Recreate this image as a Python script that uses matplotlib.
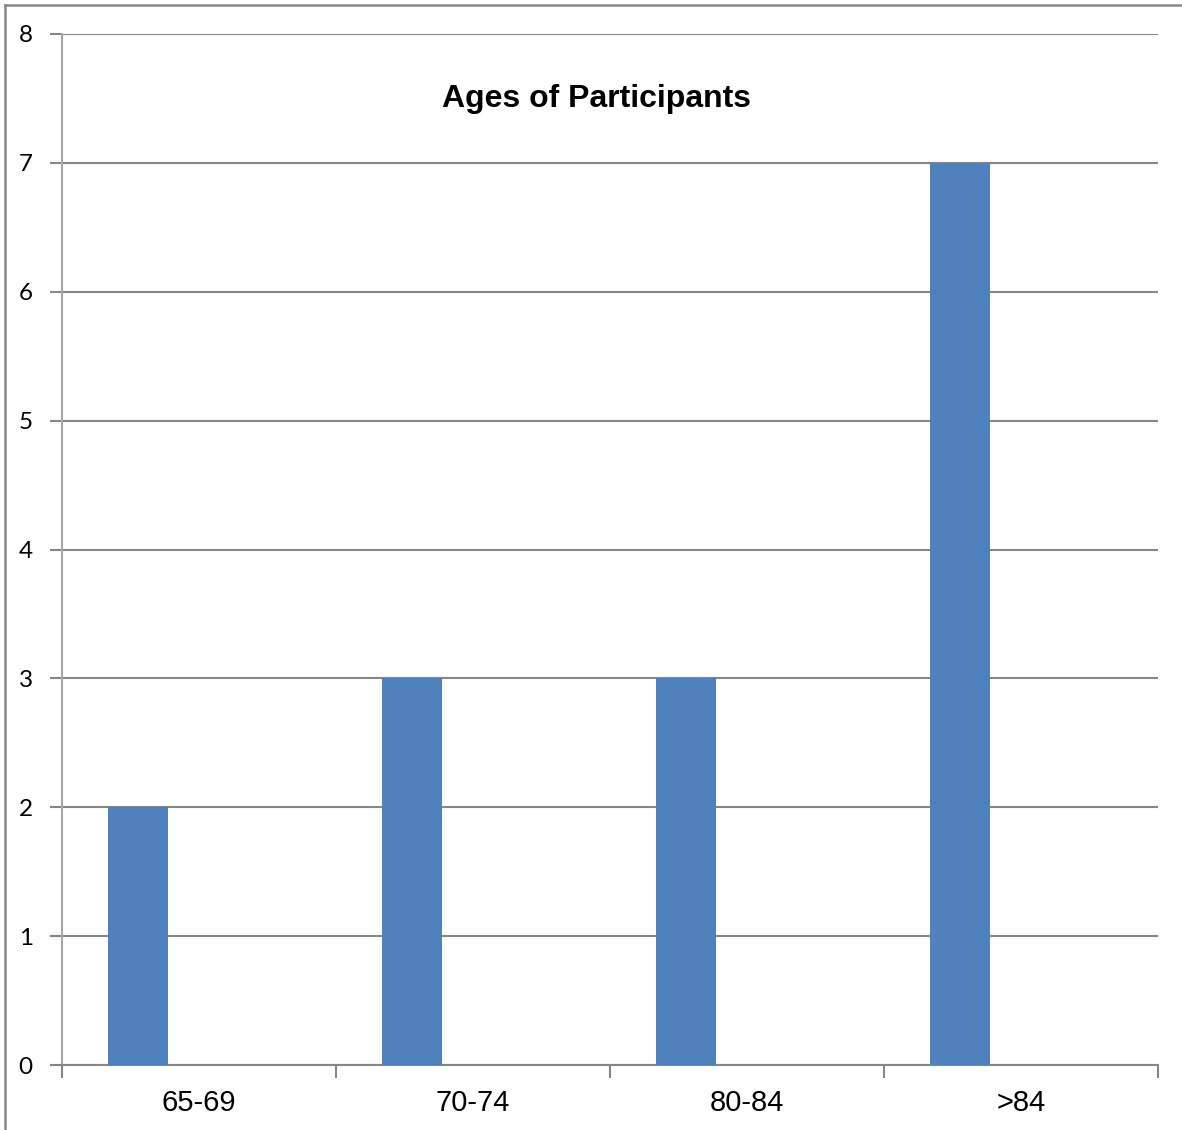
import numpy as np
import matplotlib.pyplot as plt
from matplotlib.lines import Line2D

categories = ["65-69", "70-74", "80-84", ">84"]
counts = [2, 3, 3, 7]
yticks = [0, 1, 2, 3, 4, 5, 6, 7, 8]

fig = plt.figure(figsize=(11.82, 11.3), dpi=100)
ax = fig.add_axes([62 / 1182, 1 - 1065 / 1130, 1096 / 1182, 1031 / 1130])

x = np.arange(len(categories))
# excel style: bar sits in the left slot of each category
ax.bar(x - 0.2226, counts, width=0.219, color="#4F81BD", zorder=3)

ax.set_xlim(-0.5, len(categories) - 0.5)
ax.set_ylim(0, 8)
ax.set_yticks(yticks)
ax.set_yticklabels([str(v) for v in yticks], family="Lato", fontsize=17.5)
ax.yaxis.grid(True, color="#878787", linewidth=1.5, zorder=0)
ax.tick_params(axis="y", length=9, width=1.5, color="#878787", pad=12)

ax.set_xticks(x)
ax.set_xticklabels(categories, family="Liberation Sans", fontsize=21)
ax.set_xticks(np.arange(-0.5, len(categories)), minor=True)
ax.tick_params(axis="x", which="major", length=0, pad=17)
ax.tick_params(axis="x", which="minor", length=9, width=1.5, color="#878787")

for s in ["top", "right"]:
    ax.spines[s].set_visible(False)
ax.spines["left"].set_color("#a6a6a6")
ax.spines["bottom"].set_color("#878787")
ax.spines["left"].set_linewidth(1.5)
ax.spines["bottom"].set_linewidth(1.5)

fig.text(596 / 1182, 1 - 99 / 1130, "Ages of Participants", ha="center", va="center",
         family="Liberation Sans", fontweight="bold", fontsize=23)

# outer chart border (only left and top visible in the crop)
fig.add_artist(Line2D([5 / 1182, 5 / 1182], [0, 1 - 5 / 1130], color="#888888", linewidth=1.8))
fig.add_artist(Line2D([5 / 1182, 1], [1 - 5 / 1130, 1 - 5 / 1130], color="#888888", linewidth=1.8))

fig.savefig("out.png", dpi=100)
